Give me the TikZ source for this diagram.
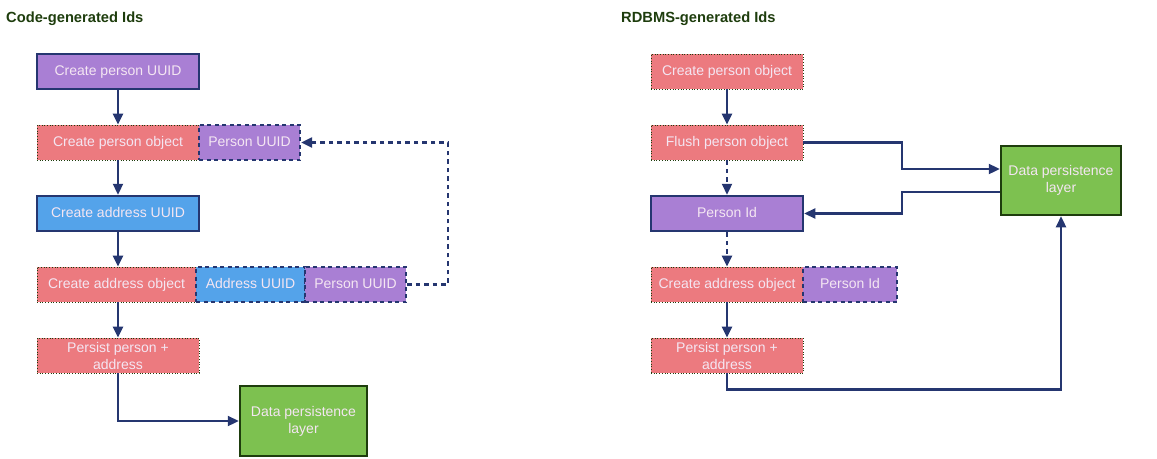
\documentclass[tikz,border=0pt]{standalone}
\usepackage{fontspec}
\setmainfont{Liberation Sans}
\usetikzlibrary{arrows.meta,calc}
\definecolor{cpurple}{HTML}{A97FD4}
\definecolor{cpink}{HTML}{EC7A7F}
\definecolor{cblue}{HTML}{54A3EA}
\definecolor{cgreen}{HTML}{7DC150}
\definecolor{cnavy}{HTML}{253670}
\definecolor{cdkgreen}{HTML}{1E3D0D}
\definecolor{ctext}{HTML}{F4E6F2}
\tikzset{
  box/.style={rectangle, inner sep=0pt, minimum height=35pt, text=ctext,
    font=\fontsize{14}{17}\selectfont, align=center},
  one/.style={text height=10pt, text depth=2.5pt},
  pinkbox/.style={box, fill=cpink, draw=cdkgreen, dotted, line width=0.7pt},
  solidbox/.style={box, one, draw=cnavy, line width=2.5pt},
  dashbox/.style={box, one, draw=cnavy, line width=2.4pt, dash pattern=on 4pt off 3.5pt},
  greenbox/.style={box, fill=cgreen, draw=cdkgreen, line width=2.5pt},
  arr/.style={draw=cnavy, line width=2.3pt, -{Triangle[length=11pt,width=10pt]}},
  darr/.style={arr, dash pattern=on 4.5pt off 4pt},
  title/.style={anchor=base west, inner sep=0pt, text=cdkgreen, font=\fontsize{14.7}{18}\selectfont\bfseries}
}
\begin{document}
\begin{tikzpicture}[x=1pt,y=-1pt]
\useasboundingbox (0,0) rectangle (1157,458);
% ---------- left ----------
\node[title] (t1) at (6,22) {Code-generated Ids};
\node[solidbox, fill=cpurple, minimum width=162pt] (cpu) at (118,71.5) {Create person UUID};
\node[pinkbox, one, minimum width=162pt] (cpo) at (118,142.5) {Create person object};
\node[dashbox, fill=cpurple, minimum width=101pt] (pu1) at (249.5,142.5) {Person UUID};
\node[solidbox, fill=cblue, minimum width=162pt] (cau) at (118,213.5) {Create address UUID};
\node[pinkbox, one, minimum width=159pt] (cao) at (116.5,284.5) {Create address object};
\node[dashbox, fill=cblue, minimum width=109pt] (au) at (250.5,284.5) {Address UUID};
\node[dashbox, fill=cpurple, minimum width=101pt] (pu2) at (355.5,284.5) {Person UUID};
\node[pinkbox, minimum width=162pt] (ppa) at (118,355.5) {Persist person +\\address};
\node[greenbox, minimum width=127pt, minimum height=70pt] (dpl) at (303.5,421) {Data persistence\\layer};
\draw[arr] (cpu) -- (cpo);
\draw[arr] (cpo) -- (cau);
\draw[arr] (cau) -- (cau.south |- cao.north);
\draw[arr] (cau.south |- cao.south) -- (ppa);
\coordinate (j0) at (448,0);
\draw[darr] (pu2.east) -- (pu2.east -| j0) |- (pu1.east);
\draw[arr] (ppa.south) |- (dpl.west);
% ---------- right ----------
\node[title] (t2) at (621,22) {RDBMS-generated Ids};
\node[pinkbox, one, minimum width=152pt] (rcpo) at (727,71.5) {Create person object};
\node[pinkbox, one, minimum width=152pt] (rfpo) at (727,142.5) {Flush person object};
\node[solidbox, fill=cpurple, minimum width=152pt] (rpid) at (727,213.5) {Person Id};
\node[pinkbox, one, minimum width=152pt] (rcao) at (727,284.5) {Create address object};
\node[dashbox, fill=cpurple, minimum width=94pt] (rpid2) at (850,284.5) {Person Id};
\node[pinkbox, minimum width=152pt] (rppa) at (727,355.5) {Persist person +\\address};
\node[greenbox, minimum width=120pt, minimum height=69pt] (rdpl) at (1061,180.5) {Data persistence\\layer};
\draw[arr] (rcpo) -- (rfpo);
\draw[darr] (rfpo) -- (rpid);
\draw[darr] (rpid) -- (rcao);
\draw[arr] (rcao) -- (rppa);
\coordinate (j1) at (902,0);
\draw[arr] (rfpo.east) -- (rfpo.east -| j1) |- ([yshift=11.5pt]rdpl.west);
\draw[arr] ([yshift=-11.5pt]rdpl.west) -| (j1 |- rpid.east) -- (rpid.east);
\draw[arr] (rppa.south) -- ++(0,16) -| (rdpl.south);
\end{tikzpicture}
\end{document}
